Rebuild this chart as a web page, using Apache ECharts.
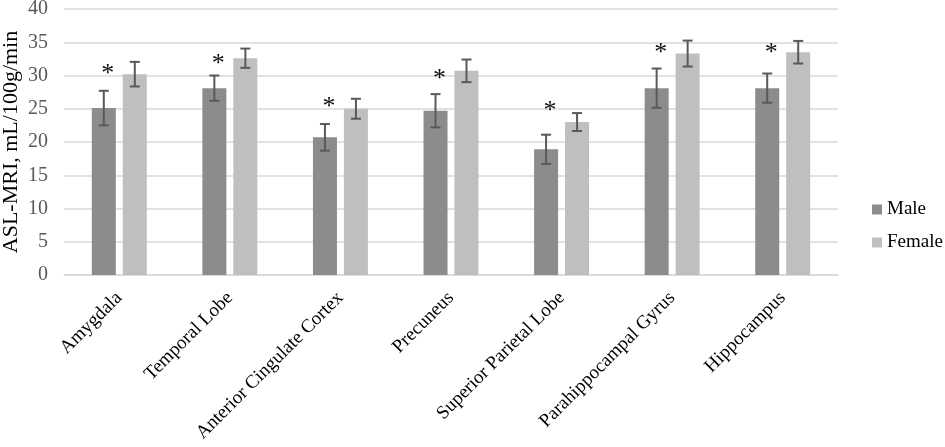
<!DOCTYPE html>
<html>
<head>
<meta charset="utf-8">
<script src="https://cdn.jsdelivr.net/npm/echarts@6/dist/echarts.min.js"></script>
<style>
html,body{margin:0;padding:0;background:#fff;}
#chart{width:945px;height:447px;}
</style>
</head>
<body>
<div id="chart"></div>
<script>
const categories = ['Amygdala','Temporal Lobe','Anterior Cingulate Cortex','Precuneus','Superior Parietal Lobe','Parahippocampal Gyrus','Hippocampus'];
const maleMean = [25.1, 28.1, 20.7, 24.7, 18.9, 28.1, 28.1];
const maleErr = [2.6, 1.9, 2.0, 2.5, 2.2, 2.95, 2.2];
const femaleMean = [30.2, 32.6, 25.0, 30.7, 23.0, 33.3, 33.5];
const femaleErr = [1.85, 1.45, 1.5, 1.7, 1.35, 1.95, 1.7];
const starY = [30.6, 32.2, 25.7, 29.9, 25.1, 33.8, 33.8];
const yTicks = [0, 5, 10, 15, 20, 25, 30, 35, 40];
const seriesNames = ['Male', 'Female'];

const FONT = "'Liberation Serif', serif";
const chart = echarts.init(document.getElementById('chart'), null, {renderer: 'canvas'});

function errorRender(means, errs, offset) {
  return function (params, api) {
    const i = api.value(0);
    const m = means[i], e = errs[i];
    const top = api.coord([i, m + e]);
    const bot = api.coord([i, m - e]);
    const x = top[0] + offset;
    const cap = 5;
    const style = {stroke: '#595959', lineWidth: 2};
    return {
      type: 'group',
      children: [
        {type: 'line', shape: {x1: x, y1: top[1], x2: x, y2: bot[1]}, style: style},
        {type: 'line', shape: {x1: x - cap, y1: top[1], x2: x + cap, y2: top[1]}, style: style},
        {type: 'line', shape: {x1: x - cap, y1: bot[1], x2: x + cap, y2: bot[1]}, style: style}
      ]
    };
  };
}

function starRender(params, api) {
  const i = api.value(0);
  const p = api.coord([i, starY[i]]);
  return {
    type: 'text',
    x: p[0] - 15.5 + 4,
    y: p[1] + 3,
    style: {text: '*', font: '26px "Liberation Serif"', fill: '#111', align: 'center', verticalAlign: 'middle'}
  };
}

const idx = categories.map((c, i) => [i]);

chart.setOption({
  animation: false,
  backgroundColor: '#fff',
  textStyle: {fontFamily: FONT},
  grid: {left: 64, right: 107, top: 9, bottom: 172, containLabel: false, outerBoundsMode: 'none'},
  legend: {
    orient: 'vertical',
    left: 867,
    top: 195,
    itemWidth: 10,
    itemHeight: 10,
    itemGap: 14,
    icon: 'rect',
    data: seriesNames,
    formatter: function (name) { return '{s|' + name + '}'; },
    textStyle: {
      fontFamily: 'Liberation Serif', fontSize: 19, color: '#000',
      rich: {s: {fontFamily: 'Liberation Serif', fontSize: 19, fontWeight: 'normal', color: '#000'}}
    }
  },
  xAxis: {
    type: 'category',
    data: categories,
    axisLine: {lineStyle: {color: '#d9d9d9', width: 1.5}},
    axisTick: {show: false},
    axisLabel: {rotate: 45, fontFamily: FONT, fontSize: 19, color: '#000', interval: 0, margin: 20}
  },
  yAxis: {
    type: 'value',
    min: yTicks[0],
    max: yTicks[yTicks.length - 1],
    interval: 5,
    name: 'ASL-MRI, mL/100g/min',
    nameLocation: 'middle',
    nameGap: 42,
    nameMoveOverlap: false,
    nameTextStyle: {fontFamily: FONT, fontSize: 22, color: '#000'},
    axisLine: {show: false},
    axisTick: {show: false},
    axisLabel: {fontFamily: FONT, fontSize: 20, color: '#595959', margin: 16},
    splitLine: {lineStyle: {color: '#d9d9d9', width: 1.5}}
  },
  series: [
    {name: seriesNames[0], type: 'bar', data: maleMean, barWidth: 24, barGap: '29%', itemStyle: {color: '#8c8c8c'}},
    {name: seriesNames[1], type: 'bar', data: femaleMean, barWidth: 24, itemStyle: {color: '#bfbfbf'}},
    {type: 'custom', data: idx, renderItem: errorRender(maleMean, maleErr, -15.5), z: 5},
    {type: 'custom', data: idx, renderItem: errorRender(femaleMean, femaleErr, 15.5), z: 5},
    {type: 'custom', data: idx, renderItem: starRender, z: 6}
  ]
});
</script>
</body>
</html>
